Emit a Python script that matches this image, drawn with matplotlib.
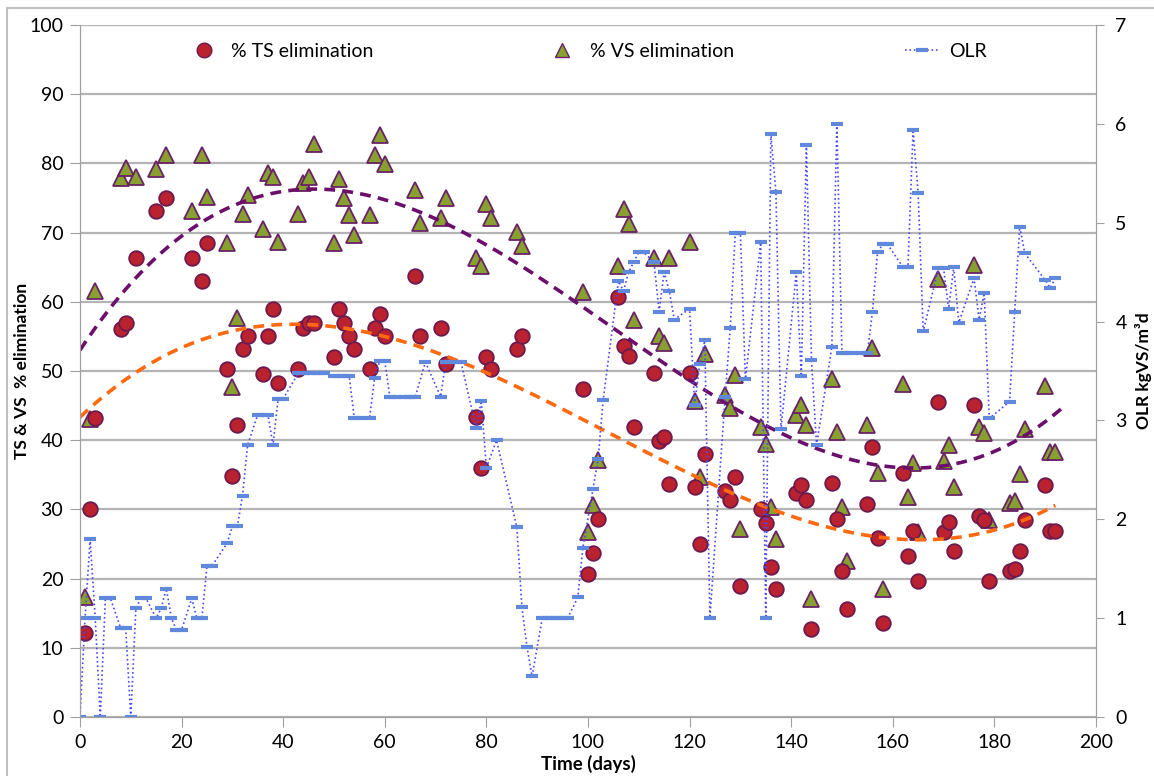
import numpy as np
import matplotlib.pyplot as plt
from matplotlib.patches import Rectangle
from matplotlib.lines import Line2D

plt.rcParams['font.family'] = ['Lato', 'DejaVu Sans']

# Sampling days for the TS / VS measurements
days = [1, 2, 3, 8, 9, 11, 15, 17, 22, 24, 25, 29, 30, 31, 32, 33, 36, 37, 38, 39,
        43, 44, 45, 46, 50, 51, 52, 53, 54, 57, 58, 59, 60, 66, 67, 71, 72, 78, 79, 80,
        81, 86, 87, 99, 100, 101, 102, 106, 107, 108, 109, 113, 114, 115, 116, 120, 121,
        122, 123, 127, 128, 129, 130, 134, 135, 136, 137, 141, 142, 143, 144, 148, 149,
        150, 151, 155, 156, 157, 158, 162, 163, 164, 165, 169, 170, 171, 172, 176, 177,
        178, 179, 183, 184, 185, 186, 190, 191, 192]

# % TS elimination
ts_elim = [12.1, 30, 43.2, 56, 57, 66.3, 73.1, 75, 66.3, 63, 68.5, 50.3, 34.8, 42.2, 53.2,
           55, 49.6, 55, 59, 48.2, 50.3, 56.2, 57, 57, 52, 59, 57, 55, 53.2, 50.3, 56.2,
           58.2, 55, 63.7, 55, 56.2, 51, 43.4, 36, 52, 50.3, 53.2, 55, 47.4, 20.7, 23.7,
           28.6, 60.7, 53.6, 52.2, 41.9, 49.7, 39.9, 40.4, 33.7, 49.7, 33.2, 25, 38, 32.7,
           31.4, 34.7, 19, 30, 28, 21.7, 18.5, 32.4, 33.5, 31.4, 12.7, 33.8, 28.6, 21.1,
           15.6, 30.8, 39, 25.9, 13.6, 35.2, 23.2, 26.9, 19.7, 45.5, 26.7, 28.2, 24, 45.1,
           29, 28.5, 19.7, 21.1, 21.4, 24, 28.5, 33.5, 26.9, 26.9]

# % VS elimination
vs_elim = [17.3, 43, 61.6, 77.9, 79.3, 78, 79.2, 81.2, 73.1, 81.2, 75.1, 68.5, 47.7, 57.6,
           72.7, 75.4, 70.5, 78.6, 78, 68.7, 72.7, 77.1, 78, 82.8, 68.5, 77.7, 75, 72.5,
           69.7, 72.5, 81.2, 84.1, 79.9, 76.2, 71.4, 72.1, 75, 66.3, 65.2, 74.1, 72.1, 70.1,
           68.1, 61.4, 26.7, 30.6, 37.1, 65.2, 73.4, 71.2, 57.4, 66.3, 55, 54, 66.3, 68.7,
           45.7, 34.7, 52.4, 46.5, 44.6, 49.4, 27.2, 41.9, 39.4, 30.3, 25.7, 43.6, 45.1,
           42.2, 17, 48.8, 41.2, 30.3, 22.5, 42.2, 53.3, 35.3, 18.5, 48.1, 31.8, 36.7, 26.7,
           63.3, 37, 39.3, 33.2, 65.3, 41.9, 41, 28.5, 30.9, 31.2, 35.1, 41.6, 47.8, 38.3,
           38.3]

# OLR (kgVS/m3d)
olr_day = [0, 1, 2, 3, 4, 5, 6, 8, 9, 10, 11, 12, 13, 15, 16, 17, 18, 19, 20, 22, 23, 24,
           25, 26, 29, 30, 31, 32, 33, 35, 36, 37, 38, 39, 40, 43, 44, 45, 46, 47, 48, 50,
           51, 52, 53, 54, 55, 57, 58, 59, 60, 61, 62, 64, 65, 66, 68, 71, 72, 73, 74, 75,
           78, 79, 80, 82, 86, 87, 88, 89, 91, 92, 93, 94, 95, 96, 98, 99, 101, 102, 103,
           106, 107, 108, 109, 110, 111, 113, 114, 115, 116, 117, 120, 121, 122, 123, 124,
           127, 128, 129, 130, 131, 134, 135, 136, 137, 138, 141, 142, 143, 144, 145, 148,
           149, 150, 151, 152, 154, 155, 156, 157, 158, 159, 162, 163, 164, 165, 166, 169,
           170, 171, 172, 173, 176, 177, 178, 179, 183, 184, 185, 186, 190, 191, 192]
olr = [0, 1.0, 1.8, 1.0, 0, 1.2, 1.2, 0.9, 0.9, 0, 1.1, 1.2, 1.2, 1.0, 1.1, 1.3, 1.0, 0.88,
       0.88, 1.2, 1.0, 1.0, 1.53, 1.53, 1.76, 1.93, 1.93, 2.24, 2.75, 3.06, 3.06, 3.06,
       2.75, 3.22, 3.22, 3.48, 3.48, 3.48, 3.48, 3.48, 3.48, 3.45, 3.45, 3.45, 3.45, 3.02,
       3.02, 3.02, 3.43, 3.6, 3.6, 3.24, 3.24, 3.24, 3.24, 3.24, 3.59, 3.24, 3.59, 3.59,
       3.59, 3.59, 2.92, 3.2, 2.52, 2.8, 1.92, 1.11, 0.71, 0.41, 1.0, 1.0, 1.0, 1.0, 1.0,
       1.0, 1.21, 1.71, 2.31, 2.61, 3.21, 4.41, 4.31, 4.5, 4.6, 4.7, 4.7, 4.6, 4.1, 4.5,
       4.31, 4.02, 4.13, 3.16, 3.57, 3.81, 1.0, 3.24, 3.93, 4.9, 4.9, 3.42, 4.8, 1.0, 5.9,
       5.31, 2.91, 4.5, 3.45, 5.79, 3.61, 2.75, 3.74, 6.0, 3.68, 3.68, 3.68, 3.68, 3.68,
       4.1, 4.7, 4.78, 4.78, 4.55, 4.55, 5.94, 5.3, 3.9, 4.54, 4.54, 4.13, 4.55, 3.99,
       4.44, 4.02, 4.29, 3.02, 3.19, 4.1, 4.96, 4.69, 4.42, 4.34, 4.44]

fig = plt.figure(figsize=(11.54, 7.76), dpi=100)
ax = fig.add_axes([0.0693, 0.076, 0.8804, 0.8918])
ax2 = ax.twinx()

grid_c = '#b4b4b4'
ax.set_xlim(0, 200)
ax.set_ylim(0, 100)
ax2.set_ylim(0, 7)
ax.set_xticks(np.arange(0, 201, 20))
ax.set_yticks(np.arange(0, 101, 10))
ax2.set_yticks(np.arange(0, 8, 1))
ax.yaxis.grid(True, color=grid_c, linewidth=1.6)
ax.set_axisbelow(True)

for a in (ax, ax2):
    for s in a.spines.values():
        s.set_color('#a0a0a0')
    a.spines['top'].set_visible(False)
ax.tick_params(axis='both', direction='out', length=7, color='#a0a0a0', labelsize=14, pad=5)
ax2.tick_params(axis='y', direction='out', length=6, color='#a0a0a0', labelsize=14, pad=8)

# scatter points
ax.plot(days, vs_elim, linestyle='none', marker='^', markersize=11,
        markerfacecolor='#87a030', markeredgecolor='#6a2266', markeredgewidth=1.3,
        zorder=3)
ax.plot(days, ts_elim, linestyle='none', marker='o', markersize=10.5,
        markerfacecolor='#bb2230', markeredgecolor='#6c1a4e', markeredgewidth=1.3,
        zorder=4)

# cubic polynomial trend lines
xv = np.linspace(0, 194, 300)
ax.plot(xv, np.polyval(np.polyfit(days, vs_elim, 3), xv), color='#6b0f6b',
        linestyle=(0, (3, 2)), linewidth=2.6, zorder=5)
xt = np.linspace(0, 192, 300)
ax.plot(xt, np.polyval(np.polyfit(days, ts_elim, 3), xt), color='#ff6a10',
        linestyle=(0, (3, 2)), linewidth=2.6, zorder=5)

# OLR on right axis
ax2.plot(olr_day, olr, color='#4848ff', linestyle=':', linewidth=1.2,
         marker='_', markersize=9, markeredgewidth=3, markeredgecolor='#6088dc')

ax.set_xlabel('Time (days)', fontsize=13.5, fontweight='bold', labelpad=3)
ax.set_ylabel('TS & VS  % elimination', fontsize=12.5, fontweight='bold')
ax.yaxis.set_label_coords(-0.049, 0.5)
ax2.set_ylabel('OLR kgVS/m\u00b3d', fontsize=12.5, fontweight='bold')
ax2.yaxis.set_label_coords(1.038, 0.5)

h_ts = Line2D([], [], linestyle='none', marker='o', markersize=10.5,
              markerfacecolor='#bb2230', markeredgecolor='#6c1a4e')
h_vs = Line2D([], [], linestyle='none', marker='^', markersize=10,
              markerfacecolor='#87a030', markeredgecolor='#6a2266')
h_olr = Line2D([0, 0.5, 1], [0, 0, 0], color='#4848ff', linestyle=':', linewidth=1.2,
               marker='_', markersize=9, markeredgewidth=3, markeredgecolor='#6088dc',
               markevery=[1])
ax2.legend([h_ts, h_vs, h_olr], ['% TS elimination', '% VS elimination', 'OLR'],
           loc='upper center', bbox_to_anchor=(0.499, 0.999), ncol=3, frameon=False,
           fontsize=14, columnspacing=8.8, handlelength=1.8, handletextpad=0.5)

fig.patches.append(Rectangle((0.006, -0.01), 1.0, 0.9997, transform=fig.transFigure,
                             fill=False, edgecolor='#c0c0c0', linewidth=1.5))

fig.savefig('out.png', dpi=100)
